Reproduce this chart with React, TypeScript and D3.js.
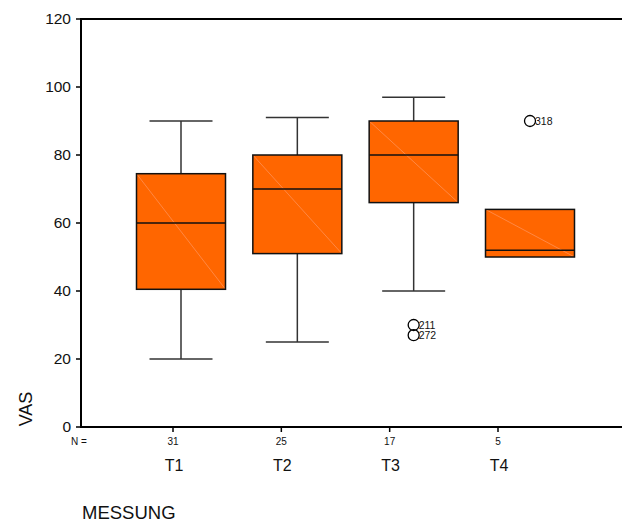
import React from 'react';
import * as d3 from 'd3';

const groups = ['T1', 'T2', 'T3', 'T4'];
const counts = [31, 25, 17, 5];
const whiskerLow = [20, 25, 40, 50];
const q1 = [40.5, 51, 66, 50];
const median = [60, 70, 80, 52];
const q3 = [74.5, 80, 90, 64];
const whiskerHigh = [90, 91, 97, 64];
const outliers = [
  { group: 'T3', value: 30, id: '211' },
  { group: 'T3', value: 27, id: '272' },
  { group: 'T4', value: 90, id: '318' },
];
const yTicks = [0, 20, 40, 60, 80, 100, 120];

const W = 622;
const H = 522;
const left = 81;
const top = 19;
const bottom = 427;
const font = "'Liberation Sans', Arial, sans-serif";

const App = () => {
  const y = d3.scaleLinear().domain([0, 120]).range([bottom, top]);
  // boxes and axis ticks sit on slightly different grids in the original
  const xBox = d3.scalePoint<string>().domain(groups).range([181, 530]);
  const xTick = d3.scalePoint<string>().domain(groups).range([173, 498]);
  const boxW = 89;
  const capW = 63;

  return (
    <svg width={W} height={H} style={{ position: 'absolute', left: 0, top: 0, background: '#fff' }} fontFamily={font}>
      {/* frame */}
      <line x1={left} x2={W} y1={top} y2={top} stroke="#000" strokeWidth={2} />
      <line x1={left} x2={W} y1={bottom} y2={bottom} stroke="#000" strokeWidth={2} />
      <line x1={left} x2={left} y1={top - 1} y2={bottom + 1} stroke="#000" strokeWidth={2} />

      {/* y axis */}
      {yTicks.map(t => (
        <g key={t}>
          <line x1={left - 5} x2={left} y1={y(t)} y2={y(t)} stroke="#000" strokeWidth={1.5} />
          <text x={71} y={y(t)} dy="0.35em" textAnchor="end" fontSize={15.5} fill="#111">{t}</text>
        </g>
      ))}
      <text transform={`translate(26,${409}) rotate(-90)`} textAnchor="middle" dy="0.35em" fontSize={18} fill="#111">VAS</text>

      {/* x axis */}
      <text x={71} y={445} fontSize={10} fill="#111">N =</text>
      {groups.map((g, i) => (
        <g key={g}>
          <line x1={xTick(g)} x2={xTick(g)} y1={bottom} y2={bottom + 5} stroke="#000" strokeWidth={1.5} />
          <text x={xTick(g)} y={445} textAnchor="middle" fontSize={10} fill="#111">{counts[i]}</text>
          <text x={xTick(g)! + 1} y={471} textAnchor="middle" fontSize={16} fill="#111">{g}</text>
        </g>
      ))}
      <text x={82} y={519} fontSize={18.5} fill="#111">MESSUNG</text>

      {/* boxes */}
      {groups.map((g, i) => {
        const cx = xBox(g)!;
        const x0 = cx - boxW / 2;
        const yTop = y(q3[i]);
        const yBot = y(q1[i]);
        return (
          <g key={g}>
            {whiskerHigh[i] > q3[i] && (
              <>
                <line x1={cx} x2={cx} y1={y(whiskerHigh[i])} y2={yTop} stroke="#333" strokeWidth={1.5} />
                <line x1={cx - capW / 2} x2={cx + capW / 2} y1={y(whiskerHigh[i])} y2={y(whiskerHigh[i])} stroke="#333" strokeWidth={1.5} />
              </>
            )}
            {whiskerLow[i] < q1[i] && (
              <>
                <line x1={cx} x2={cx} y1={yBot} y2={y(whiskerLow[i])} stroke="#333" strokeWidth={1.5} />
                <line x1={cx - capW / 2} x2={cx + capW / 2} y1={y(whiskerLow[i])} y2={y(whiskerLow[i])} stroke="#333" strokeWidth={1.5} />
              </>
            )}
            <rect x={x0} y={yTop} width={boxW} height={yBot - yTop} fill="#ff6600" />
            <line x1={x0} y1={yTop} x2={x0 + boxW} y2={yBot} stroke="#ffa070" strokeWidth={0.6} />
            <rect x={x0} y={yTop} width={boxW} height={yBot - yTop} fill="none" stroke="#111" strokeWidth={1.5} />
            <line x1={x0} x2={x0 + boxW} y1={y(median[i])} y2={y(median[i])} stroke="#111" strokeWidth={1.5} />
          </g>
        );
      })}

      {/* outliers */}
      {outliers.map(o => (
        <g key={o.id}>
          <circle cx={xBox(o.group)} cy={y(o.value)} r={5.5} fill="none" stroke="#000" strokeWidth={1.3} />
          <text x={xBox(o.group)! + 5} y={y(o.value)} dy="0.35em" fontSize={10.5} fill="#111">{o.id}</text>
        </g>
      ))}
    </svg>
  );
};

export default App;
